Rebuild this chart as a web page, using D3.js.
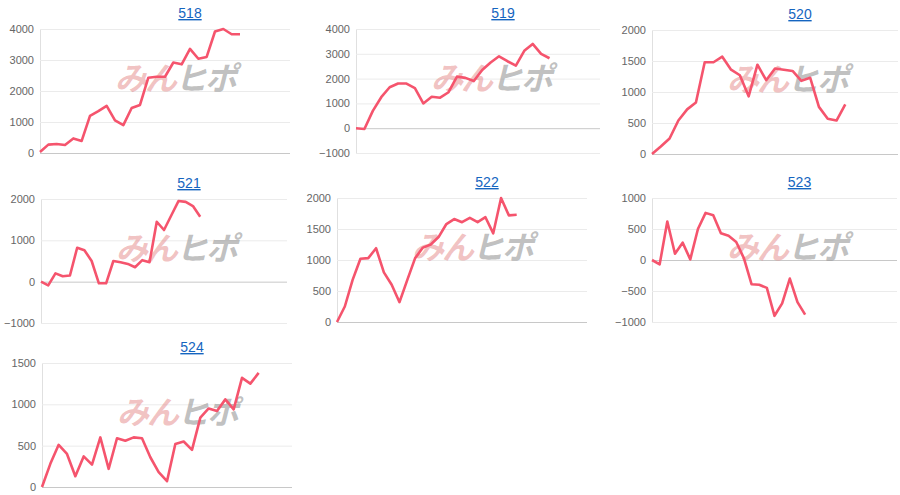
<!DOCTYPE html>
<html><head><meta charset="utf-8">
<script src="https://cdn.jsdelivr.net/npm/d3@7"></script>
<style>body{margin:0;background:#fff}svg{font-family:Arial,"Liberation Sans",sans-serif}</style>
</head><body><div id="chart"></div>
<script>
const titles = ["518", "519", "520", "521", "522", "523", "524"]
const s518 = [30, 270, 290, 260, 470, 390, 1200, 1350, 1520, 1050, 900, 1450, 1550, 2430, 2460, 2460, 2920, 2860, 3360, 3040, 3100, 3920, 4000, 3830, 3830]
const s519 = [0, -30, 700, 1250, 1650, 1800, 1800, 1620, 1000, 1270, 1230, 1450, 2080, 2030, 1900, 2350, 2650, 2900, 2700, 2520, 3120, 3400, 3000, 2820]
const s520 = [0, 120, 250, 540, 720, 830, 1480, 1480, 1570, 1360, 1270, 930, 1440, 1190, 1380, 1360, 1340, 1180, 1230, 760, 570, 540, 800]
const s521 = [0, -90, 200, 130, 150, 820, 760, 500, -40, -40, 500, 470, 430, 350, 520, 470, 1450, 1250, 1600, 1950, 1930, 1830, 1570]
const s522 = [0, 250, 680, 1020, 1030, 1190, 800, 600, 320, 680, 1030, 1200, 1250, 1370, 1580, 1660, 1610, 1680, 1610, 1690, 1430, 2000, 1720, 1730]
const s523 = [0, -70, 620, 100, 280, 10, 500, 760, 720, 430, 390, 290, 30, -390, -400, -450, -900, -700, -300, -680, -880]
const s524 = [0, 280, 510, 400, 130, 370, 270, 600, 220, 590, 560, 600, 590, 360, 180, 70, 520, 550, 450, 840, 950, 920, 1060, 940, 1320, 1250, 1380]
const series = [s518, s519, s520, s521, s522, s523, s524]
const yDomains = [[0, 4000], [-1000, 4000], [0, 2000], [-1000, 2000], [0, 2000], [-1000, 1000], [0, 1500]]
const yTicks = [[0, 1000, 2000, 3000, 4000], [-1000, 0, 1000, 2000, 3000, 4000], [0, 500, 1000, 1500, 2000],
  [-1000, 0, 1000, 2000], [0, 500, 1000, 1500, 2000], [-1000, -500, 0, 500, 1000], [0, 500, 1000, 1500]]
const slots = [31, 30, 29, 35, 33, 33, 31]

// panel geometry
const panels = [
  { x: 40, y: 29, w: 250 }, { x: 356, y: 29, w: 244 }, { x: 652, y: 30, w: 246 },
  { x: 41, y: 199, w: 246 }, { x: 337, y: 198, w: 250 }, { x: 652, y: 198, w: 245 },
  { x: 42, y: 363, w: 250 }
]
const ph = 124

const svg = d3.select("#chart").append("svg").attr("width", 900).attr("height", 495)

panels.forEach((p, i) => {
  const g = svg.append("g").attr("transform", `translate(${p.x},${p.y})`)
  const y = d3.scaleLinear().domain(yDomains[i]).range([ph, 0])
  const x = d3.scaleLinear().domain([0, slots[i] - 1]).range([0, p.w])

  const ax = g.append("g").call(d3.axisLeft(y).tickValues(yTicks[i]).tickFormat(d3.format("d"))
    .tickSize(-p.w).tickPadding(6))
  ax.select(".domain").attr("stroke", "#e0e0e0")
  ax.selectAll(".tick line").attr("stroke", d => d === 0 ? "#c8c8c8" : "#ebebeb")
  ax.selectAll(".tick text").attr("fill", "#666").attr("font-size", 11)

  // watermark
  const wm = g.append("text").attr("x", 135).attr("y", ph * 0.49)
    .attr("text-anchor", "middle").attr("font-size", 32).attr("font-weight", "bold")
    .attr("font-style", "italic").attr("font-family", "'Noto Sans CJK JP'")
    .attr("letter-spacing", -2)
  wm.append("tspan").attr("fill", "rgba(225,120,120,0.45)").text("みん")
  wm.append("tspan").attr("fill", "rgba(140,140,140,0.55)").text("ヒポ")

  g.append("path").datum(series[i])
    .attr("fill", "none").attr("stroke", "#f5546d").attr("stroke-width", 2.6)
    .attr("stroke-linejoin", "round")
    .attr("d", d3.line().x((d, j) => x(j)).y(d => y(d)))

  g.append("text").attr("x", p.w / 2 + 25).attr("y", -11).attr("text-anchor", "middle")
    .attr("font-size", 14).attr("fill", "#1565c0").attr("text-decoration", "underline")
    .text(titles[i])
})
</script></body></html>
